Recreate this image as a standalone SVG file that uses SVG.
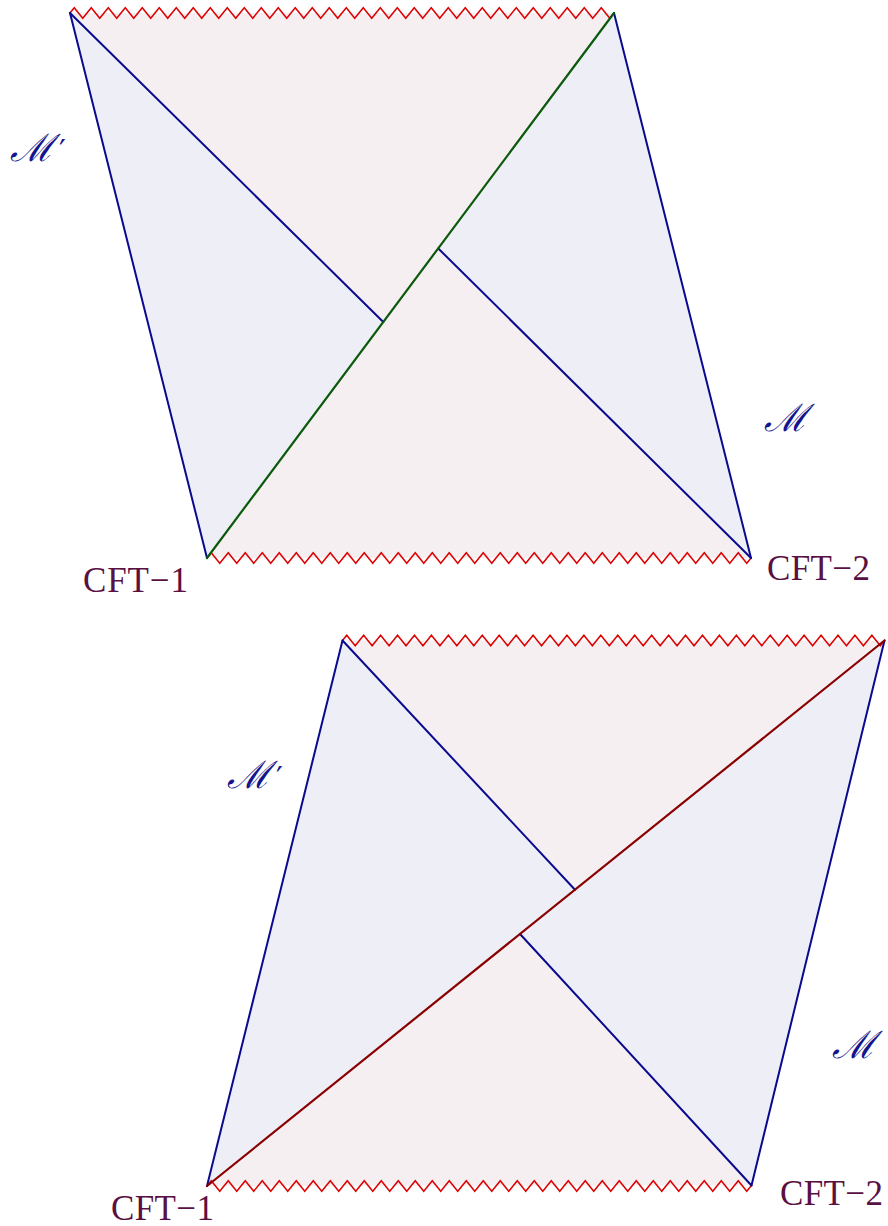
<svg xmlns="http://www.w3.org/2000/svg" width="888" height="1226" viewBox="0 0 888 1226">
<style>
.pk{fill:#f5eff2;stroke:none}
.bl{fill:#eeeff6;stroke:none}
.zz{fill:none;stroke:#dd0000;stroke-width:1.5;stroke-linejoin:miter}
.edge{fill:none;stroke:#0a0a8f;stroke-width:2;stroke-linecap:round}
.grn{fill:none;stroke:#0b5a0b;stroke-width:2.2;stroke-linecap:round}
.red{fill:none;stroke:#8a0000;stroke-width:2.2;stroke-linecap:round}
.cft{font-family:"Liberation Serif",serif;font-size:35px;fill:#5a1042}
.m{font-family:"DejaVu Serif",serif;font-style:italic;font-size:38px;fill:#14148c}
.pr{font-family:"DejaVu Sans",sans-serif;font-style:normal;font-size:30px}
</style>
<g id="top-diagram">
  <g id="top-regions">
    <polygon class="pk" points="70,13 614,13 383.3,322"/>
    <polygon class="bl" points="70,13 383.3,322 207,558"/>
    <polygon class="bl" points="614,13 751,558 438.3,248.5"/>
    <polygon class="pk" points="207,558 751,558 438.3,248.5"/>
  </g>
  <g id="top-connectors">
    <path class="zz" d="M70,13l4.25,-5.2
l8.5,10.4l8.5,-10.4l8.5,10.4l8.5,-10.4l8.5,10.4l8.5,-10.4l8.5,10.4l8.5,-10.4l8.5,10.4l8.5,-10.4
l8.5,10.4l8.5,-10.4l8.5,10.4l8.5,-10.4l8.5,10.4l8.5,-10.4l8.5,10.4l8.5,-10.4l8.5,10.4l8.5,-10.4
l8.5,10.4l8.5,-10.4l8.5,10.4l8.5,-10.4l8.5,10.4l8.5,-10.4l8.5,10.4l8.5,-10.4l8.5,10.4l8.5,-10.4
l8.5,10.4l8.5,-10.4l8.5,10.4l8.5,-10.4l8.5,10.4l8.5,-10.4l8.5,10.4l8.5,-10.4l8.5,10.4l8.5,-10.4
l8.5,10.4l8.5,-10.4l8.5,10.4l8.5,-10.4l8.5,10.4l8.5,-10.4l8.5,10.4l8.5,-10.4l8.5,10.4l8.5,-10.4
l8.5,10.4l8.5,-10.4l8.5,10.4l8.5,-10.4l8.5,10.4l8.5,-10.4l8.5,10.4l8.5,-10.4l8.5,10.4l8.5,-10.4
l8.5,10.4l8.5,-10.4
l8.5,10.4l4.25,-5.2"/>
    <path class="zz" d="M207,558l4.25,-5.2
l8.5,10.4l8.5,-10.4l8.5,10.4l8.5,-10.4l8.5,10.4l8.5,-10.4l8.5,10.4l8.5,-10.4l8.5,10.4l8.5,-10.4
l8.5,10.4l8.5,-10.4l8.5,10.4l8.5,-10.4l8.5,10.4l8.5,-10.4l8.5,10.4l8.5,-10.4l8.5,10.4l8.5,-10.4
l8.5,10.4l8.5,-10.4l8.5,10.4l8.5,-10.4l8.5,10.4l8.5,-10.4l8.5,10.4l8.5,-10.4l8.5,10.4l8.5,-10.4
l8.5,10.4l8.5,-10.4l8.5,10.4l8.5,-10.4l8.5,10.4l8.5,-10.4l8.5,10.4l8.5,-10.4l8.5,10.4l8.5,-10.4
l8.5,10.4l8.5,-10.4l8.5,10.4l8.5,-10.4l8.5,10.4l8.5,-10.4l8.5,10.4l8.5,-10.4l8.5,10.4l8.5,-10.4
l8.5,10.4l8.5,-10.4l8.5,10.4l8.5,-10.4l8.5,10.4l8.5,-10.4l8.5,10.4l8.5,-10.4l8.5,10.4l8.5,-10.4
l8.5,10.4l8.5,-10.4
l8.5,10.4l4.25,-5.2"/>
    <line class="edge" x1="70" y1="13" x2="207" y2="558"/>
    <line class="edge" x1="614" y1="13" x2="751" y2="558"/>
    <line class="edge" x1="70" y1="13" x2="383.3" y2="322"/>
    <line class="edge" x1="438.3" y1="248.5" x2="751" y2="558"/>
    <line class="grn" x1="207" y1="558" x2="614" y2="13"/>
  </g>
  <g id="top-labels">
    <text class="m" x="10" y="161">ℳ<tspan class="pr" dx="5">′</tspan></text>
    <text class="m" x="764" y="431">ℳ</text>
    <text class="cft" x="83" y="592" textLength="105">CFT−1</text>
    <text class="cft" x="767" y="580" textLength="103">CFT−2</text>
  </g>
</g>
<g id="bottom-diagram">
  <g id="bottom-regions">
    <polygon class="pk" points="342.5,640.5 884.5,640.5 575,889.7"/>
    <polygon class="bl" points="342.5,640.5 575,889.7 207,1186"/>
    <polygon class="bl" points="884.5,640.5 751.5,1185.5 520,934"/>
    <polygon class="pk" points="207,1186 751.5,1185.5 520,934"/>
  </g>
  <g id="bottom-connectors">
    <path class="zz" d="M342.5,640.5l4.235,-5.2
l8.47,10.4l8.47,-10.4l8.47,10.4l8.47,-10.4l8.47,10.4l8.47,-10.4l8.47,10.4l8.47,-10.4l8.47,10.4l8.47,-10.4
l8.47,10.4l8.47,-10.4l8.47,10.4l8.47,-10.4l8.47,10.4l8.47,-10.4l8.47,10.4l8.47,-10.4l8.47,10.4l8.47,-10.4
l8.47,10.4l8.47,-10.4l8.47,10.4l8.47,-10.4l8.47,10.4l8.47,-10.4l8.47,10.4l8.47,-10.4l8.47,10.4l8.47,-10.4
l8.47,10.4l8.47,-10.4l8.47,10.4l8.47,-10.4l8.47,10.4l8.47,-10.4l8.47,10.4l8.47,-10.4l8.47,10.4l8.47,-10.4
l8.47,10.4l8.47,-10.4l8.47,10.4l8.47,-10.4l8.47,10.4l8.47,-10.4l8.47,10.4l8.47,-10.4l8.47,10.4l8.47,-10.4
l8.47,10.4l8.47,-10.4l8.47,10.4l8.47,-10.4l8.47,10.4l8.47,-10.4l8.47,10.4l8.47,-10.4l8.47,10.4l8.47,-10.4
l8.47,10.4l8.47,-10.4
l8.47,10.4l4.235,-5.2"/>
    <path class="zz" d="M207,1186l4.25,-5.2
l8.5,10.4l8.5,-10.4l8.5,10.4l8.5,-10.4l8.5,10.4l8.5,-10.4l8.5,10.4l8.5,-10.4l8.5,10.4l8.5,-10.4
l8.5,10.4l8.5,-10.4l8.5,10.4l8.5,-10.4l8.5,10.4l8.5,-10.4l8.5,10.4l8.5,-10.4l8.5,10.4l8.5,-10.4
l8.5,10.4l8.5,-10.4l8.5,10.4l8.5,-10.4l8.5,10.4l8.5,-10.4l8.5,10.4l8.5,-10.4l8.5,10.4l8.5,-10.4
l8.5,10.4l8.5,-10.4l8.5,10.4l8.5,-10.4l8.5,10.4l8.5,-10.4l8.5,10.4l8.5,-10.4l8.5,10.4l8.5,-10.4
l8.5,10.4l8.5,-10.4l8.5,10.4l8.5,-10.4l8.5,10.4l8.5,-10.4l8.5,10.4l8.5,-10.4l8.5,10.4l8.5,-10.4
l8.5,10.4l8.5,-10.4l8.5,10.4l8.5,-10.4l8.5,10.4l8.5,-10.4l8.5,10.4l8.5,-10.4l8.5,10.4l8.5,-10.4
l8.5,10.4l8.5,-10.4
l8.5,10.4l4.25,-5.2"/>
    <line class="edge" x1="342.5" y1="640.5" x2="207" y2="1186"/>
    <line class="edge" x1="884.5" y1="640.5" x2="751.5" y2="1185.5"/>
    <line class="edge" x1="342.5" y1="640.5" x2="575" y2="889.7"/>
    <line class="edge" x1="520" y1="934" x2="751.5" y2="1185.5"/>
    <line class="red" x1="207" y1="1186" x2="884.5" y2="640.5"/>
  </g>
  <g id="bottom-labels">
    <text class="m" x="227" y="788">ℳ<tspan class="pr" dx="5">′</tspan></text>
    <text class="m" x="832" y="1058">ℳ</text>
    <text class="cft" x="111" y="1220" textLength="103">CFT−1</text>
    <text class="cft" x="780" y="1205" textLength="103">CFT−2</text>
  </g>
</g>
</svg>
